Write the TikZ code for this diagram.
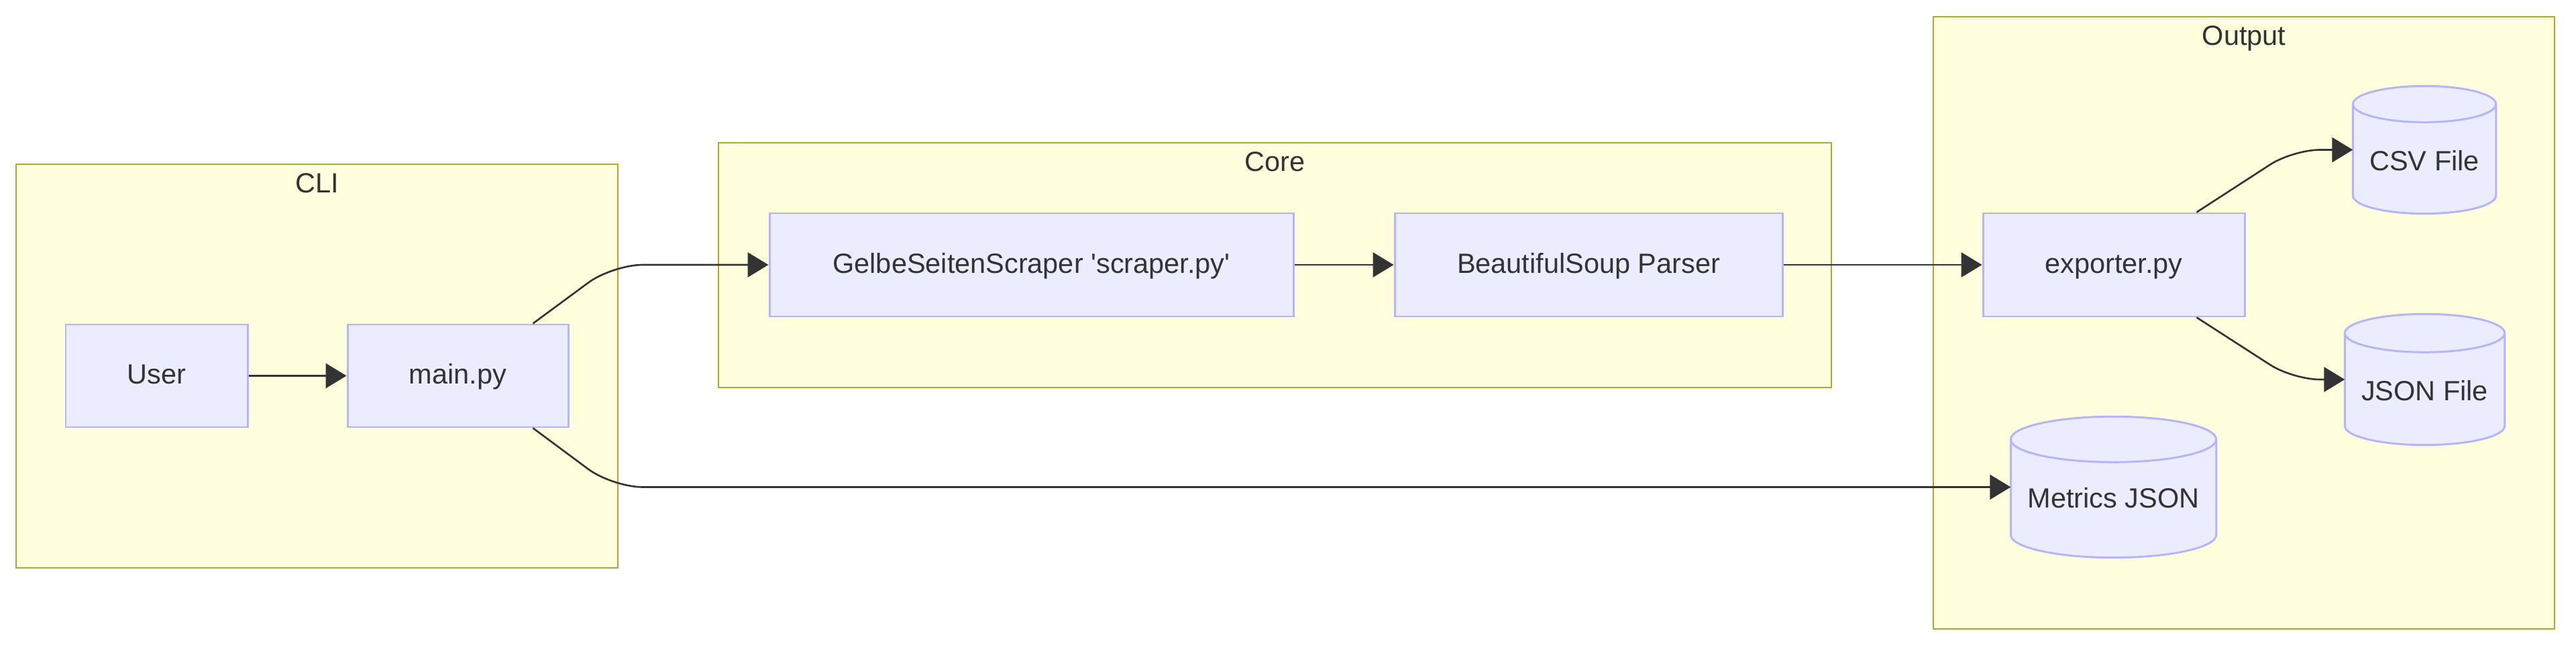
\documentclass[tikz,border=0pt]{standalone}
\usepackage{fontspec}
\setmainfont{Liberation Sans}
\usetikzlibrary{arrows.meta,calc,backgrounds}
\usepackage{xcolor}

\definecolor{nodefill}{HTML}{ECECFF}
\definecolor{nodeline}{HTML}{B4B4FF}
\definecolor{groupfill}{HTML}{FFFFDE}
\definecolor{groupline}{HTML}{AAAA33}
\definecolor{ink}{HTML}{333333}

% cylinder outline round a named node: #1 node, #2 radius of the end
\newcommand\dbdraw[2]{%
  \path[dbshape] let \p1=(#1.north west), \p2=(#1.south east), \n1={(\x2-\x1)/2} in
    (\x1,\y1-#2) -- (\x1,\y2+#2)
    arc[start angle=180, end angle=360, x radius=\n1, y radius=#2]
    -- (\x2,\y1-#2)
    arc[start angle=0, end angle=180, x radius=\n1, y radius=#2] -- cycle
    (\x1,\y1-#2) arc[start angle=180, end angle=360, x radius=\n1, y radius=#2];
}

\begin{document}
\begin{tikzpicture}[
  font=\fontsize{11.8}{14.2}\selectfont, text=ink,
  box/.style={rectangle, draw=nodeline, fill=nodefill, line width=0.85pt,
              minimum height=1.53cm, text height=0.7em, text depth=0pt},
  db/.style={rectangle, inner sep=0pt, text height=1.78em, text depth=0pt},
  dbshape/.style={draw=nodeline, fill=nodefill, line width=0.85pt},
  group/.style={draw=groupline, fill=groupfill, line width=0.8pt},
  grouplabel/.style={text height=0.7em, text depth=0pt},
  link/.style={draw=ink, line width=0.75pt, -{Triangle[length=0.31cm, width=0.37cm]}},
]
  \useasboundingbox (0,0) rectangle (38.4,-9.65);

  % Subgraph regions
  \begin{scope}[on background layer]
    \draw[group] (0.24,-2.45) rectangle (9.21,-8.47);
    \draw[group] (10.71,-2.13) rectangle (27.30,-5.78);
    \draw[group] (28.82,-0.25) rectangle (38.08,-9.38);
  \end{scope}
  \node[grouplabel] (cli) at (4.725,-2.75) {CLI};
  \node[grouplabel] (core) at (19.005,-2.43) {Core};
  \node[grouplabel] (output) at (33.45,-0.55) {Output};

  % CLI nodes
  \node[box, minimum width=2.71cm] (user) at (2.335,-5.605) {User};
  \node[box, minimum width=3.29cm] (mainpy) at (6.825,-5.605) {main.py};

  % Core nodes
  \node[box, minimum width=7.81cm, minimum height=1.54cm] (scraper) at (15.375,-3.95)
    {GelbeSeitenScraper \textquotesingle scraper.py\textquotesingle};
  \node[box, minimum width=5.78cm, minimum height=1.54cm] (parser) at (23.68,-3.95)
    {BeautifulSoup Parser};

  % Output nodes
  \node[box, minimum width=3.90cm, minimum height=1.54cm] (exporter) at (31.51,-3.95)
    {exporter.py};
  \node[db, minimum width=2.12cm, minimum height=1.89cm] (csv) at (36.14,-2.235) {CSV File};
  \node[db, minimum width=2.37cm, minimum height=1.94cm] (jsonfile) at (36.145,-5.66) {JSON File};
  \node[db, minimum width=3.05cm, minimum height=2.09cm] (metrics) at (31.505,-7.265) {Metrics JSON};

  \begin{scope}[on background layer]
    \dbdraw{csv}{0.27cm}
    \dbdraw{jsonfile}{0.285cm}
    \dbdraw{metrics}{0.34cm}
  \end{scope}

  % Flow
  \draw[link] (user) -- (mainpy);
  \draw[link, rounded corners=0.45cm] ([xshift=-0.54cm]mainpy.north east) -- (9.13,0 |- scraper.west) -- (scraper.west);
  \draw[link, rounded corners=0.45cm] ([xshift=-0.54cm]mainpy.south east) -- (9.13,0 |- metrics.west) -- (metrics.west);
  \draw[link] (scraper) -- (parser);
  \draw[link] (parser) -- (exporter);
  \draw[link, rounded corners=0.4cm] ([xshift=-0.73cm]exporter.north east) -- (34.18,0 |- csv.west) -- (csv.west);
  \draw[link, rounded corners=0.4cm] ([xshift=-0.73cm]exporter.south east) -- (34.18,0 |- jsonfile.west) -- (jsonfile.west);
\end{tikzpicture}
\end{document}
